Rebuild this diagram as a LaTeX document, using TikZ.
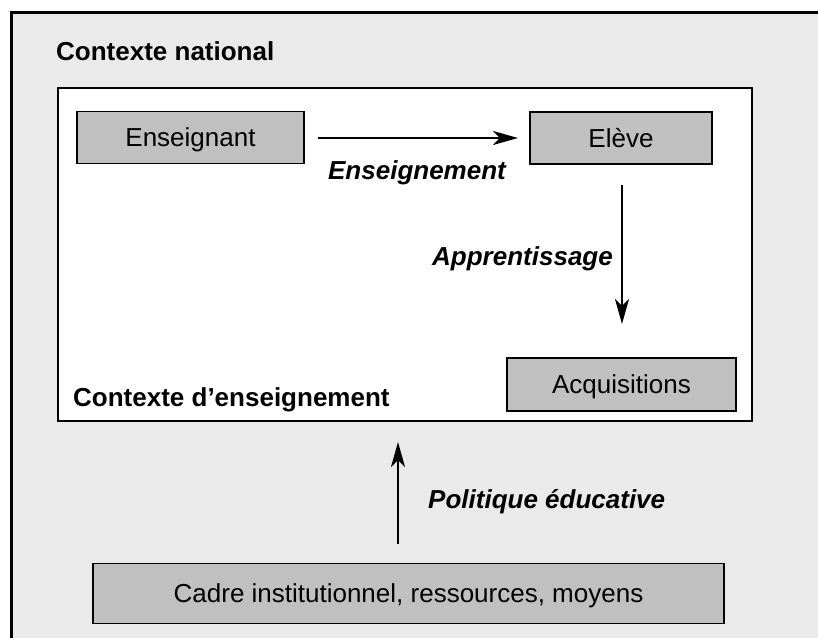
\documentclass[tikz,border=0pt]{standalone}
\usepackage{fontspec}
\setmainfont{Liberation Sans}
\usetikzlibrary{arrows.meta}
\definecolor{bgpanel}{HTML}{EAEAEA}
\definecolor{boxfill}{HTML}{C0C0C0}
\tikzset{
  box/.style={draw=black, line width=1.5pt, fill=boxfill, inner sep=0pt, anchor=center,
    text height=18.8pt, text depth=0pt,
    font=\fontsize{26}{31}\selectfont},
  lbl/.style={inner sep=0pt, font=\fontsize{26}{31}\selectfont\bfseries},
  ilbl/.style={inner sep=0pt, font=\fontsize{26}{31}\selectfont\bfseries\itshape},
  flow/.style={line width=2.2pt, -{Stealth[length=25pt, width=14pt, inset=7pt]}}
}
\begin{document}
\begin{tikzpicture}[x=1pt,y=-1pt]
\useasboundingbox (0,0) rectangle (818,637);
\fill[white] (0,0) rectangle (818,637);
\begin{scope}
\clip (0,0) rectangle (818,637);
\draw[line width=3pt, fill=bgpanel] (11,12) rectangle (830,650);
\end{scope}
\draw[line width=2pt, fill=white] (58,88) rectangle (752,421);
\node[lbl, anchor=base west] (cn) at (56,60) {Contexte national};
\node[lbl, anchor=base west] (ce) at (73,406) {Contexte d’enseignement};
\node[box, minimum width=227pt, minimum height=52pt] (ens) at (190.5,137.5) {Enseignant};
\node[box, minimum width=182pt, minimum height=52pt] (elv) at (621,138) {Elève};
\node[box, minimum width=229pt, minimum height=53pt] (acq) at (621.5,384.5) {Acquisitions};
\node[box, minimum width=631pt, minimum height=60pt] (cad) at (408.5,593.5) {Cadre institutionnel, ressources, moyens};
\coordinate (a1s) at (318,138);
\coordinate (a1e) at (518,138);
\coordinate (a2s) at (622,185);
\coordinate (a2e) at (622,324);
\coordinate (a3s) at (398,544);
\coordinate (a3e) at (398,442);
\draw[flow] (a1s) -- (a1e);
\draw[flow] (a2s) -- (a2e);
\draw[flow] (a3s) -- (a3e);
\node[ilbl, anchor=base] (l1) at (417,179) {Enseignement};
\node[ilbl, anchor=base east] (l2) at (613,265) {Apprentissage};
\node[ilbl, anchor=base west] (l3) at (428,508) {Politique éducative};
\end{tikzpicture}
\end{document}
